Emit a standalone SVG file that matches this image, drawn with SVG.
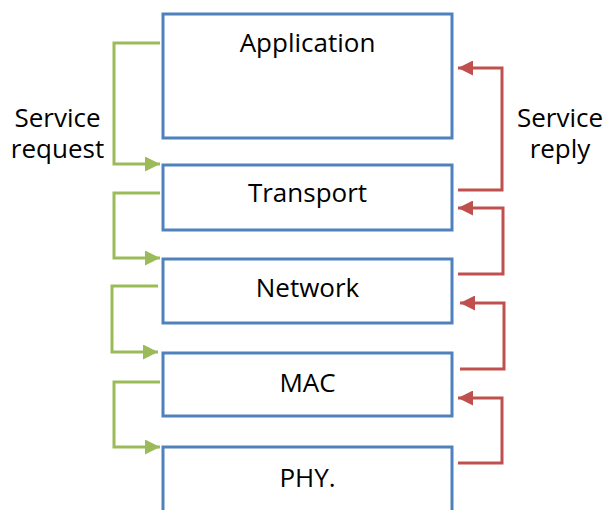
<svg xmlns="http://www.w3.org/2000/svg" width="604" height="510" viewBox="0 0 604 510">
<defs>
<style>
.box{fill:#fff;stroke:#4F81BD;stroke-width:3}
.lbl{font-family:"Open Sans","Noto Sans","Liberation Sans",sans-serif;font-size:26px;fill:#000;text-anchor:middle}
.req{fill:none;stroke:#9BBB59;stroke-width:3;marker-end:url(#ga)}
.rep{fill:none;stroke:#C0504D;stroke-width:3;marker-end:url(#ra)}
</style>
<marker id="ga" viewBox="0 0 10 10" refX="10" refY="5" markerWidth="5.3" markerHeight="5" markerUnits="strokeWidth" orient="auto">
<path d="M0,0 L10,5 L0,10 Z" fill="#9BBB59"/>
</marker>
<marker id="ra" viewBox="0 0 10 10" refX="10" refY="5" markerWidth="5.3" markerHeight="5" markerUnits="strokeWidth" orient="auto">
<path d="M0,0 L10,5 L0,10 Z" fill="#C0504D"/>
</marker>
</defs>
<rect width="604" height="510" fill="#fff"/>
<g id="application"><rect class="box" x="163" y="14" width="289" height="124"/><text class="lbl" x="307.5" y="52">Application</text></g>
<g id="transport"><rect class="box" x="163" y="165" width="289" height="65"/><text class="lbl" x="307.5" y="202">Transport</text></g>
<g id="network"><rect class="box" x="163" y="259" width="289" height="64"/><text class="lbl" x="307.5" y="297">Network</text></g>
<g id="mac"><rect class="box" x="163" y="353" width="289" height="63"/><text class="lbl" x="307.5" y="392">MAC</text></g>
<g id="phy"><rect class="box" x="163" y="447" width="289" height="80"/><text class="lbl" x="307.5" y="487">PHY.</text></g>
<g id="labels">
<text class="lbl" x="57.5" y="127">Service</text>
<text class="lbl" x="57.5" y="158">request</text>
<text class="lbl" x="560" y="127">Service</text>
<text class="lbl" x="560" y="158">reply</text>
</g>
<g id="connectors">
<path class="req" d="M160,43 H114 V164 H160"/>
<path class="req" d="M160,193 H114 V258 H160"/>
<path class="req" d="M158,286 H112 V352 H158"/>
<path class="req" d="M160,382 H114 V447 H160"/>
<path class="rep" d="M458,190 H502 V68 H458"/>
<path class="rep" d="M458,274 H503 V208 H458"/>
<path class="rep" d="M460,369 H504 V303 H460"/>
<path class="rep" d="M458,463 H502 V398 H458"/>
</g>
</svg>
